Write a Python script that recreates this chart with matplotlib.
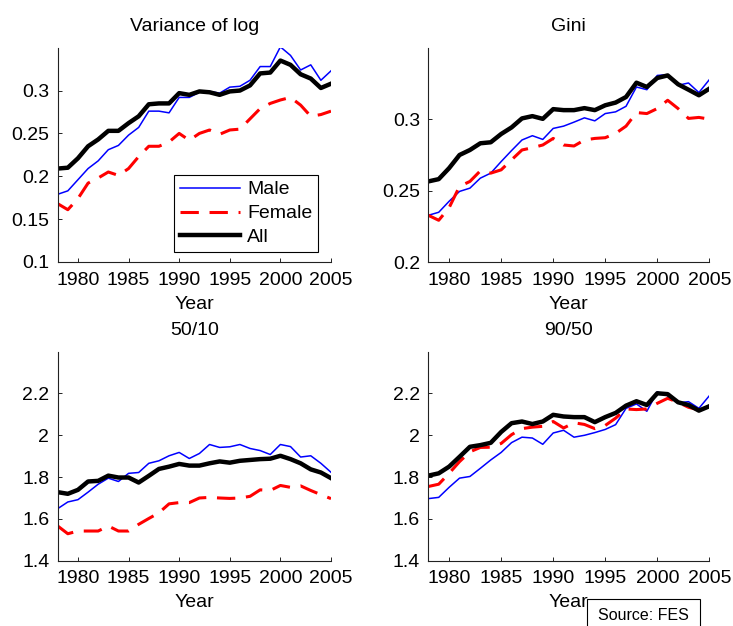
import matplotlib
matplotlib.use("Agg")
import matplotlib.pyplot as plt
import matplotlib.patches as mpatches
import numpy as np

plt.rcParams['font.family'] = ['Liberation Sans', 'DejaVu Sans']

years = list(range(1978, 2006))

# Variance of log
varlog_male = [0.179, 0.183, 0.196, 0.209, 0.218, 0.231, 0.236, 0.248, 0.257, 0.276,
               0.276, 0.274, 0.292, 0.292, 0.298, 0.299, 0.297, 0.304, 0.305, 0.312,
               0.328, 0.328, 0.351, 0.341, 0.324, 0.330, 0.312, 0.323]
varlog_female = [0.168, 0.161, 0.174, 0.192, 0.198, 0.205, 0.201, 0.209, 0.223, 0.235,
                 0.235, 0.240, 0.250, 0.242, 0.250, 0.254, 0.249, 0.254, 0.255, 0.267,
                 0.279, 0.285, 0.289, 0.292, 0.283, 0.270, 0.272, 0.276]
varlog_all = [0.209, 0.210, 0.221, 0.235, 0.243, 0.253, 0.253, 0.262, 0.270, 0.284,
              0.285, 0.285, 0.297, 0.295, 0.299, 0.298, 0.295, 0.299, 0.300, 0.306,
              0.320, 0.321, 0.335, 0.330, 0.319, 0.314, 0.303, 0.308]

# Gini
gini_male = [0.2327, 0.2348, 0.2425, 0.2494, 0.2517, 0.2587, 0.2622, 0.2703, 0.2780, 0.2854,
             0.2884, 0.2858, 0.2935, 0.2951, 0.2979, 0.3009, 0.2988, 0.3039, 0.3051, 0.3090,
             0.3225, 0.3206, 0.3306, 0.3311, 0.3237, 0.3253, 0.3186, 0.3276]
gini_female = [0.2327, 0.2292, 0.2380, 0.2529, 0.2564, 0.2638, 0.2622, 0.2645, 0.2715, 0.2784,
               0.2800, 0.2819, 0.2865, 0.2819, 0.2812, 0.2854, 0.2865, 0.2870, 0.2900, 0.2951,
               0.3046, 0.3039, 0.3074, 0.3132, 0.3074, 0.3005, 0.3012, 0.3000]
gini_all = [0.2564, 0.2580, 0.2657, 0.2749, 0.2784, 0.2831, 0.2838, 0.2896, 0.2942, 0.3005,
            0.3021, 0.3002, 0.3070, 0.3063, 0.3063, 0.3077, 0.3063, 0.3097, 0.3116, 0.3155,
            0.3255, 0.3225, 0.3288, 0.3306, 0.3244, 0.3206, 0.3167, 0.3213]

# 50/10
r5010_male = [1.649, 1.681, 1.692, 1.728, 1.766, 1.795, 1.779, 1.818, 1.822, 1.866,
              1.878, 1.902, 1.918, 1.889, 1.913, 1.956, 1.942, 1.945, 1.956, 1.937,
              1.927, 1.908, 1.956, 1.946, 1.896, 1.902, 1.866, 1.823]
r5010_female = [1.566, 1.529, 1.542, 1.542, 1.542, 1.566, 1.542, 1.542, 1.574, 1.602,
                1.629, 1.672, 1.678, 1.678, 1.700, 1.703, 1.700, 1.698, 1.700, 1.708,
                1.739, 1.736, 1.760, 1.751, 1.758, 1.736, 1.716, 1.697]
r5010_all = [1.728, 1.720, 1.739, 1.779, 1.782, 1.807, 1.798, 1.798, 1.774, 1.806,
             1.839, 1.850, 1.863, 1.855, 1.855, 1.866, 1.875, 1.869, 1.878, 1.882,
             1.886, 1.888, 1.902, 1.886, 1.866, 1.837, 1.822, 1.795]

# 90/50
r9050_male = [1.697, 1.703, 1.751, 1.795, 1.803, 1.842, 1.882, 1.918, 1.965, 1.991,
              1.987, 1.957, 2.011, 2.024, 1.991, 2.000, 2.013, 2.028, 2.051, 2.129,
              2.150, 2.115, 2.208, 2.189, 2.155, 2.161, 2.129, 2.189]
r9050_female = [1.755, 1.766, 1.818, 1.874, 1.921, 1.942, 1.943, 1.961, 2.003, 2.032,
                2.039, 2.043, 2.066, 2.035, 2.060, 2.052, 2.032, 2.047, 2.082, 2.126,
                2.123, 2.126, 2.153, 2.177, 2.158, 2.134, 2.122, 2.126]
r9050_all = [1.807, 1.818, 1.850, 1.897, 1.945, 1.953, 1.964, 2.016, 2.058, 2.066,
             2.054, 2.066, 2.098, 2.090, 2.087, 2.087, 2.063, 2.087, 2.107, 2.142,
             2.163, 2.145, 2.201, 2.197, 2.158, 2.145, 2.118, 2.139]

titles = ["Variance of log", "Gini", "50/10", "90/50"]
series = [
    (varlog_male, varlog_female, varlog_all),
    (gini_male, gini_female, gini_all),
    (r5010_male, r5010_female, r5010_all),
    (r9050_male, r9050_female, r9050_all),
]
yticks = [
    [0.1, 0.15, 0.2, 0.25, 0.3],
    [0.2, 0.25, 0.3],
    [1.4, 1.6, 1.8, 2.0, 2.2],
    [1.4, 1.6, 1.8, 2.0, 2.2],
]
ytick_labels = [
    ["0.1", "0.15", "0.2", "0.25", "0.3"],
    ["0.2", "0.25", "0.3"],
    ["1.4", "1.6", "1.8", "2", "2.2"],
    ["1.4", "1.6", "1.8", "2", "2.2"],
]
ylims = [(0.1, 0.35), (0.2, 0.35), (1.4, 2.4), (1.4, 2.4)]
xticks = [1980, 1985, 1990, 1995, 2000, 2005]
legend_labels = ["Male", "Female", "All"]

W, H = 733, 626
fig = plt.figure(figsize=(W / 100, H / 100), dpi=100)

# axes rectangles in pixels: (left, right, top, bottom)
rects_px = [
    (57.7, 331.0, 47.7, 262.0),
    (428.3, 709.3, 47.7, 262.0),
    (57.7, 331.0, 351.7, 560.7),
    (428.3, 709.3, 351.7, 560.7),
]

FS = 14
axes = []
for i, (l, r, t, b) in enumerate(rects_px):
    ax = fig.add_axes([l / W, 1 - b / H, (r - l) / W, (b - t) / H])
    male, female, allv = series[i]
    ax.plot(years, male, color='#0000ff', lw=1.1, label=legend_labels[0])
    ax.plot(years, female, color='#ff0000', lw=2.2, dashes=(6, 3.5), label=legend_labels[1])
    ax.plot(years, allv, color='black', lw=3.2, label=legend_labels[2])
    ax.set_xlim(1978, 2005)
    ax.set_ylim(*ylims[i])
    ax.set_xticks(xticks)
    ax.set_xticklabels([str(x) for x in xticks])
    ax.set_yticks(yticks[i])
    ax.set_yticklabels(ytick_labels[i])
    ax.spines['top'].set_visible(False)
    ax.spines['right'].set_visible(False)
    for s in ('left', 'bottom'):
        ax.spines[s].set_linewidth(0.8)
        ax.spines[s].set_color('#222222')
    ax.tick_params(direction='in', length=3, width=0.6, labelsize=FS, pad=6, colors='black')
    ax.tick_params(axis='x', pad=7)
    ax.set_xlabel("Year", fontsize=FS, labelpad=5)
    ax.set_title(titles[i], fontsize=FS, pad=12)
    axes.append(ax)

leg = axes[0].legend(loc='lower left', bbox_to_anchor=(0.4255, 0.0467),
                     fontsize=FS, frameon=True, fancybox=False, framealpha=1,
                     edgecolor='black', handlelength=3.1, handletextpad=0.35,
                     labelspacing=0.32, borderpad=0.3, borderaxespad=0)
leg.get_frame().set_linewidth(0.8)

# Source box
fig.patches.append(mpatches.Rectangle((586.7 / W, 1 - 640 / H), (700 - 586.7) / W, (640 - 599.3) / H,
                                      transform=fig.transFigure, facecolor='white',
                                      edgecolor='black', lw=0.8, clip_on=False))
fig.text(643 / W, 1 - 615 / H, "Source: FES", fontsize=11.5, ha='center', va='center')

fig.savefig("out.png", dpi=100)
